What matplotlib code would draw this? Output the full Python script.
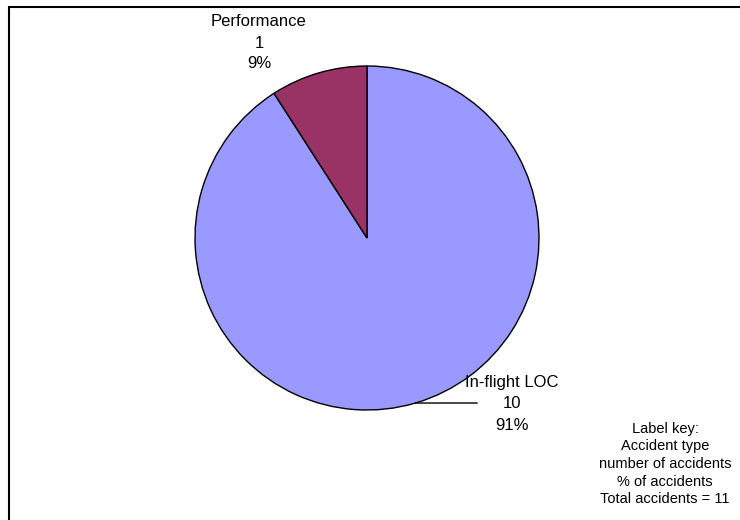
import numpy as np
import matplotlib.pyplot as plt

plt.rcParams['font.family'] = ['Liberation Sans', 'DejaVu Sans']

# data
categories = ["In-flight LOC", "Performance"]
counts = [10, 1]
colors = ["#9999FF", "#993366"]
key_lines = ["Label key:", "Accident type", "number of accidents",
             "% of accidents", "Total accidents = 11"]

W, H = 740, 520
fig = plt.figure(figsize=(W / 100, H / 100), dpi=100, facecolor="white")
ax = fig.add_axes([0, 0, 1, 1])

cx, cy, r = 367, H - 238, 172
wedges, _ = ax.pie(counts, colors=colors, startangle=90, counterclock=False,
                   center=(cx, cy), radius=r, frame=True,
                   wedgeprops=dict(edgecolor="black", linewidth=1.0))
ax.set_xlim(0, W)
ax.set_ylim(0, H)
ax.set_aspect("equal")
ax.axis("off")

total = sum(counts)
pcts = [round(100 * c / total) for c in counts]

# In-flight LOC label with leader line
w0 = wedges[0]
mid = np.radians((w0.theta1 + w0.theta2) / 2)
px, py = cx + r * np.cos(mid), cy + r * np.sin(mid)
ax.plot([px, 477], [py, H - 403], color="black", lw=1.0)
ax.text(512, H - 404, f"{categories[0]}\n{counts[0]}\n{pcts[0]}%",
        ha="center", va="center", fontsize=12, linespacing=1.5)

# Performance label
ax.text(259, H - 43, f"{categories[1]}\n{counts[1]}\n{pcts[1]}%",
        ha="center", va="center", fontsize=12, linespacing=1.5)

# label key
ax.text(665, H - 464, "\n".join(key_lines), ha="center", va="center",
        fontsize=10.5, linespacing=1.32)

# chart frame (top and left visible)
ax.plot([8.5, 8.5, W + 5], [-5, H - 6.5, H - 6.5], color="black", lw=1.5,
        solid_joinstyle="miter")

fig.savefig("out.png", dpi=100, facecolor="white")
